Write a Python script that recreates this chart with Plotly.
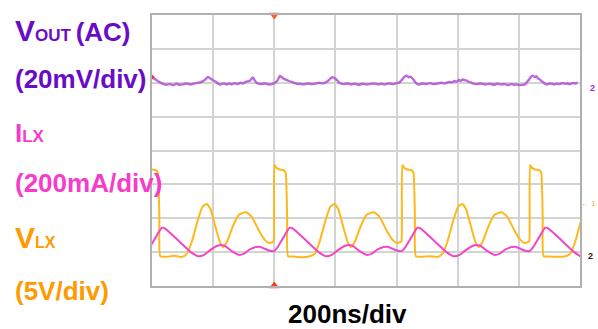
import plotly.graph_objects as go

# ---------------- data (time in ns from left graticule edge, levels in divisions) -------------
time_vout = [0, 8, 16, 26, 36, 48, 59, 70, 80, 90, 101, 112, 125, 140, 157, 165, 172, 178, 183, 190,
             199, 210, 222, 234, 245, 253, 261, 270, 280, 290, 297, 308, 320, 326, 330, 336, 343, 356,
             369, 382, 395, 403, 410, 418, 424, 430, 441, 454, 467, 476, 484, 497, 510, 522, 533, 546,
             560, 572, 580, 585, 592, 600, 607, 614, 627, 640, 652, 663, 676, 690, 701, 712, 726, 740,
             750, 761, 775, 790, 800, 810, 816, 822, 828, 833, 840, 845, 853, 860, 866, 875, 885, 896,
             908, 921, 935, 946, 958, 970, 980, 990, 997, 1004, 1010, 1017, 1023, 1030, 1036, 1043,
             1049, 1062, 1075, 1090, 1105, 1118, 1130, 1142, 1154, 1165, 1175, 1184, 1193, 1203, 1212,
             1220, 1225, 1232, 1238, 1245, 1252, 1258, 1262, 1268, 1274, 1280, 1286, 1291, 1303, 1315,
             1324, 1333, 1342, 1350, 1358, 1366, 1376, 1385, 1392, 1399]
vout_div = [6.16, 6.12, 6.07, 6.01, 5.97, 5.94, 5.96, 5.93, 5.97, 5.94, 5.95, 5.98, 5.95, 5.98, 6.01,
            6.04, 6.08, 6.13, 6.17, 6.13, 6.08, 6.02, 5.95, 5.98, 5.95, 5.98, 5.95, 5.99, 5.96, 6.00,
            5.98, 6.03, 6.06, 6.12, 6.16, 6.07, 5.99, 5.96, 5.98, 5.95, 5.97, 6.01, 6.06, 6.20, 6.17,
            6.12, 6.08, 6.03, 5.99, 5.96, 5.97, 5.95, 5.98, 5.96, 5.97, 6.00, 5.98, 6.03, 6.09, 6.14,
            6.16, 6.12, 6.06, 5.99, 5.96, 5.98, 5.95, 5.97, 5.94, 5.97, 5.95, 5.96, 5.98, 5.95, 5.97,
            5.95, 5.98, 5.96, 5.99, 6.01, 6.07, 6.14, 6.19, 6.21, 6.16, 6.18, 6.12, 6.03, 5.97, 5.95,
            5.98, 5.96, 5.99, 5.96, 5.98, 6.00, 5.98, 6.02, 6.01, 6.05, 6.03, 6.08, 6.05, 6.10, 6.08,
            6.06, 6.03, 6.01, 5.98, 5.96, 5.98, 5.95, 5.97, 5.94, 5.97, 5.95, 5.96, 5.93, 5.96, 5.94,
            5.95, 5.93, 5.94, 5.95, 6.00, 6.08, 6.16, 6.21, 6.17, 6.19, 6.13, 6.10, 6.05, 6.01, 5.97,
            5.95, 5.98, 5.95, 5.97, 5.96, 5.99, 5.97, 5.98, 5.96, 5.99, 5.98, 6.00]

time_vlx = [-20, -17, -10, 0, 13, 19, 24, 27, 45, 72, 98, 114, 130, 150, 166, 179, 192, 209, 222, 232,
            245, 264, 284, 307, 326, 346, 366, 382, 395,
            398, 401, 408, 418, 431, 437, 442, 445, 463, 490, 516, 532, 548, 568, 584, 597, 610, 627,
            640, 650, 663, 682, 702, 725, 744, 764, 784, 800, 813,
            816, 819, 826, 836, 849, 855, 860, 863, 881, 908, 934, 950, 966, 986, 1002, 1015, 1028,
            1045, 1058, 1068, 1081, 1100, 1120, 1143, 1162, 1182, 1202, 1218, 1231,
            1234, 1237, 1244, 1254, 1267, 1273, 1278, 1281, 1299, 1326, 1352, 1368, 1384, 1404]
vlx_div = [1.30, 3.57, 3.48, 3.44, 3.42, 3.35, 2.00, 0.88, 0.86, 0.89, 0.86, 0.95, 1.30, 1.95, 2.35,
           2.42, 2.25, 1.70, 1.30, 1.15, 1.30, 1.75, 2.10, 2.18, 2.05, 1.70, 1.40, 1.27, 1.30,
           1.32, 3.57, 3.48, 3.44, 3.42, 3.35, 2.00, 0.88, 0.87, 0.85, 0.88, 0.95, 1.30, 1.95, 2.35,
           2.42, 2.25, 1.70, 1.30, 1.15, 1.30, 1.75, 2.10, 2.18, 2.05, 1.70, 1.40, 1.27, 1.30,
           1.32, 3.57, 3.48, 3.44, 3.42, 3.35, 2.00, 0.88, 0.86, 0.88, 0.86, 0.95, 1.30, 1.95, 2.35,
           2.42, 2.25, 1.70, 1.30, 1.15, 1.30, 1.75, 2.10, 2.18, 2.05, 1.70, 1.40, 1.27, 1.30,
           1.32, 3.57, 3.48, 3.44, 3.42, 3.35, 2.00, 0.88, 0.87, 0.86, 0.88, 0.95, 1.30, 1.95]

time_ilx = [-20, -7, 13, 32, 42, 91, 127, 150, 170, 189, 212, 228, 241, 261, 284, 300, 320, 340, 353,
            369, 385,
            398, 411, 431, 450, 460, 509, 545, 568, 588, 607, 630, 646, 659, 679, 702, 718, 738, 758,
            771, 787, 803,
            816, 829, 849, 868, 878, 927, 963, 986, 1006, 1025, 1048, 1064, 1077, 1097, 1120, 1136,
            1156, 1176, 1189, 1205, 1221,
            1234, 1247, 1267, 1286, 1296, 1345, 1381, 1404]
ilx_div = [1.03, 1.15, 1.45, 1.72, 1.70, 1.30, 1.00, 0.88, 0.92, 1.05, 1.18, 1.21, 1.17, 1.03, 0.92,
           0.95, 1.08, 1.15, 1.16, 1.10, 1.04,
           1.03, 1.15, 1.45, 1.72, 1.70, 1.30, 1.00, 0.88, 0.92, 1.05, 1.18, 1.21, 1.17, 1.03, 0.92,
           0.95, 1.08, 1.15, 1.16, 1.10, 1.04,
           1.03, 1.15, 1.45, 1.72, 1.70, 1.30, 1.00, 0.88, 0.92, 1.05, 1.18, 1.21, 1.17, 1.03, 0.92,
           0.95, 1.08, 1.15, 1.16, 1.10, 1.04,
           1.03, 1.15, 1.45, 1.72, 1.70, 1.30, 1.00, 0.86]

time_range = [0, 1400]      # 7 divisions x 200 ns
level_range = [0, 8]        # 8 vertical divisions
trigger_time = 400          # trigger position (ns)
vout_ground_level = 6.17    # channel marker on the left edge
vlx_ref_level = 2.45        # "<- 1" marker on the right

labels = [
    ("<b><span style='font-size:30px'>V</span><span style='font-size:17px'>OUT </span>(AC)</b>", "#6a0cc6", 31),
    ("<b>(20mV/div)</b>", "#6a0cc6", 79),
    ("<b>I<span style='font-size:17px'>LX</span></b>", "#f53ccb", 133),
    ("<b>(200mA/div)</b>", "#f53ccb", 183),
    ("<b><span style='font-size:30px'>V</span><span style='font-size:16px'>LX</span></b>", "#ff9a00", 237),
    ("<b>(5V/div)</b>", "#ff9a00", 291),
]
x_label = "<b>200ns/div</b>"

# ---------------- figure -------------
W, H = 598, 329
L, R, T, B = 152, 18, 15, 43
PW, PH = W - L - R, H - T - B


def xp(px):
    return (px - L) / PW


def yp(py):
    return (H - B - py) / PH


FONT = "Liberation Sans, Arial, sans-serif"
GRID = "#d0d5d0"

fig = go.Figure()
fig.add_trace(go.Scatter(x=time_vout, y=vout_div, mode="lines",
                         line=dict(color="#b24ed8", width=2.4, shape="spline", smoothing=0.5),
                         opacity=0.85, hoverinfo="skip"))
fig.add_trace(go.Scatter(x=time_vlx, y=vlx_div, mode="lines",
                         line=dict(color="#ffb81c", width=2, shape="spline", smoothing=0.5),
                         hoverinfo="skip"))
fig.add_trace(go.Scatter(x=time_ilx, y=ilx_div, mode="lines",
                         line=dict(color="#f046c8", width=2, shape="spline", smoothing=0.5),
                         hoverinfo="skip"))

# trigger / channel markers
fig.add_trace(go.Scatter(x=[trigger_time], y=[level_range[1]], mode="markers", cliponaxis=False,
                         marker=dict(symbol="triangle-down", size=9, color="#ff5a28"), hoverinfo="skip"))
fig.add_trace(go.Scatter(x=[trigger_time], y=[level_range[0]], mode="markers", cliponaxis=False,
                         marker=dict(symbol="triangle-up", size=9, color="#ff3a1a"), hoverinfo="skip"))
fig.add_trace(go.Scatter(x=[time_range[0]], y=[vout_ground_level], mode="markers", cliponaxis=False,
                         marker=dict(symbol="triangle-right", size=6, color="#ff2a2a"), hoverinfo="skip"))

annotations = []
for text, color, cy in labels:
    annotations.append(dict(text=text, x=xp(13), y=yp(cy), xref="paper", yref="paper",
                            xanchor="left", yanchor="middle", showarrow=False,
                            font=dict(family=FONT, size=26, color=color)))
annotations.append(dict(text=x_label, x=xp(347), y=yp(314), xref="paper", yref="paper",
                        xanchor="center", yanchor="middle", showarrow=False, borderpad=0,
                        font=dict(family=FONT, size=26, color="#000000")))
annotations.append(dict(text="\u2190 1", x=xp(597), y=vlx_ref_level, xref="paper", yref="y",
                        xanchor="right", yanchor="middle", showarrow=False, borderpad=0,
                        font=dict(family=FONT, size=8, color="#ffb020")))
annotations.append(dict(text="<b>2</b>", x=xp(596), y=yp(88), xref="paper", yref="paper",
                        xanchor="right", yanchor="middle", showarrow=False, borderpad=0,
                        font=dict(family=FONT, size=9, color="#a030d0")))
annotations.append(dict(text="<b>2</b>", x=xp(594), y=yp(256), xref="paper", yref="paper",
                        xanchor="right", yanchor="middle", showarrow=False, borderpad=0,
                        font=dict(family=FONT, size=9, color="#222222")))

axis_common = dict(showgrid=True, gridcolor=GRID, gridwidth=1.5, zeroline=False,
                   showticklabels=False, ticks="", showline=True, mirror=True,
                   linecolor="#b0b0b0", linewidth=2)

tick_axis = dict(showgrid=False, zeroline=False, showticklabels=False, showline=False,
                 ticklen=3, tickwidth=1, tickcolor="#8a8a8a", ticks="outside")

fig.update_layout(
    width=W, height=H, margin=dict(l=L, r=R, t=T, b=B, pad=0),
    paper_bgcolor="white", plot_bgcolor="white", showlegend=False,
    xaxis=dict(range=time_range, dtick=200, tick0=0, **axis_common),
    yaxis=dict(range=level_range, dtick=1, tick0=0, **axis_common),
    xaxis2=dict(range=time_range, overlaying="x", anchor="free", position=0.5, side="bottom",
                dtick=40, tick0=0, **tick_axis),
    xaxis3=dict(range=time_range, overlaying="x", anchor="free", position=0.5, side="top",
                dtick=40, tick0=0, **tick_axis),
    yaxis2=dict(range=level_range, overlaying="y", anchor="free", position=trigger_time / time_range[1],
                side="left", dtick=0.2, tick0=0, **tick_axis),
    yaxis3=dict(range=level_range, overlaying="y", anchor="free", position=trigger_time / time_range[1],
                side="right", dtick=0.2, tick0=0, **tick_axis),
    annotations=annotations,
)

fig.write_html("out.html", config={"displayModeBar": False},
               post_script="document.body.style.margin='0';")
